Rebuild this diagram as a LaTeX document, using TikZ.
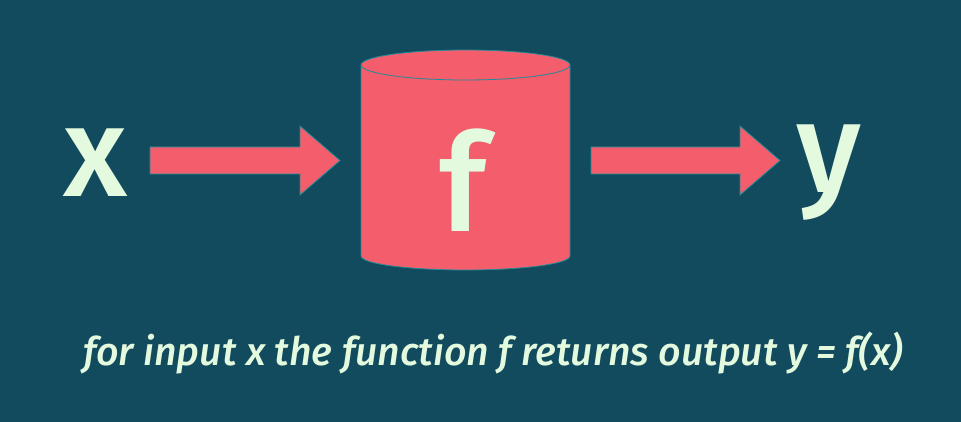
\documentclass[tikz,border=0pt]{standalone}
\usepackage{fontspec}
\setmainfont{Fira Sans Medium}[ItalicFont={Fira Sans Medium Italic}]
\usetikzlibrary{calc}
\definecolor{bg}{HTML}{124A5E}
\definecolor{coral}{HTML}{F45D6B}
\definecolor{edge}{HTML}{1F8C99}
\definecolor{chalk}{HTML}{E4FADF}
\tikzset{
  letter/.style={text=chalk, inner sep=0pt, anchor=base, font=\fontsize{128}{128}\selectfont},
  blockarrow/.style={fill=coral, draw=edge, line width=0.8pt, to path={
    ($(\tikztostart)+(0,13.5)$) -- ($(\tikztotarget)+(-40,13.5)$) -- ($(\tikztotarget)+(-40,34.5)$)
    -- (\tikztotarget) -- ($(\tikztotarget)+(-40,-34.5)$) -- ($(\tikztotarget)+(-40,-13.5)$)
    -- ($(\tikztostart)+(0,-13.5)$) -- cycle}}
}
\begin{document}
\begin{tikzpicture}[x=1pt,y=1pt]
\fill[bg] (0,0) rectangle (961,-422);
\useasboundingbox (0,0) rectangle (961,-422);

% cylinder
\filldraw[fill=coral, draw=edge, line width=0.8pt] (361,-65) -- (361,-256)
  arc[start angle=180, end angle=360, x radius=104.5, y radius=14] -- (570,-65)
  arc[start angle=0, end angle=180, x radius=104.5, y radius=15] -- cycle;
\draw[edge, line width=0.8pt] (361,-65) arc[start angle=180, end angle=360, x radius=104.5, y radius=15];

\node[letter] (input) at (95,-197) {x};
\node[letter, font=\fontsize{136}{136}\selectfont] (box) at (463,-232) {f};
\node[letter] (output) at (829,-193) {y};

\coordinate (in-start) at (150,-160.5);
\coordinate (in-end) at (340,-160.5);
\coordinate (out-start) at (591,-160.5);
\coordinate (out-end) at (780,-160.5);
\draw[blockarrow] (in-start) to (in-end);
\draw[blockarrow] (out-start) to (out-end);

\node[text=chalk, inner sep=0pt, anchor=base west, font=\fontsize{39.3}{40}\selectfont\itshape] (caption) at (83,-365)
  {for input x the function f returns output y = f(x)};
\end{tikzpicture}
\end{document}
